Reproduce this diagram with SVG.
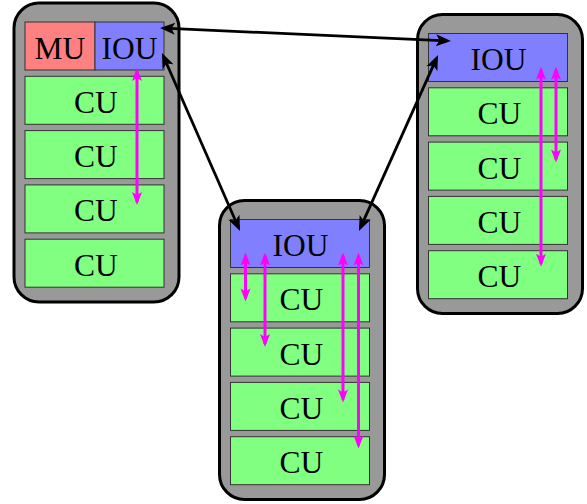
<svg xmlns="http://www.w3.org/2000/svg" width="587" height="504" viewBox="0 0 587 504">
  <style>
    .cont { fill: #999999; stroke: #000000; stroke-width: 3; }
    .box { stroke: #333333; stroke-width: 1; }
    .mu { fill: #ff8080; }
    .iou { fill: #8080ff; }
    .cu { fill: #80ff80; }
    .lbl { font-family: "Liberation Serif", "Times New Roman", serif; font-size: 31.5px; fill: #000000; text-anchor: middle; }
    .blk { stroke: #000000; stroke-width: 2.8; fill: none; marker-start: url(#ab); marker-end: url(#ab); }
    .mag { stroke: #ff00ff; stroke-width: 3; fill: none; marker-start: url(#am); marker-end: url(#am); }
  </style>
  <defs>
    <marker id="ab" markerUnits="userSpaceOnUse" orient="auto-start-reverse" viewBox="-14 -8 20 16" refX="0" refY="0" markerWidth="20" markerHeight="16" overflow="visible">
      <path d="M4,0 L-11,-6 L-7.5,0 L-11,6 Z" fill="#000000"/>
    </marker>
    <marker id="am" markerUnits="userSpaceOnUse" orient="auto-start-reverse" viewBox="-12 -7 16 14" refX="0" refY="0" markerWidth="16" markerHeight="14" overflow="visible">
      <path d="M3,0 L-10,-5 L-7,0 L-10,5 Z" fill="#ff00ff"/>
    </marker>
  </defs>

  <g id="node-left" transform="translate(13,2)">
    <rect class="cont" x="1" y="1" width="165" height="299" rx="25"/>
    <g id="left-mu"><rect class="box mu" x="12" y="20" width="70" height="48"/><text class="lbl" x="47" y="56.5">MU</text></g>
    <g id="left-iou"><rect class="box iou" x="82" y="20" width="69" height="48"/><text class="lbl" x="116.5" y="56.5">IOU</text></g>
    <g id="left-cu1"><rect class="box cu" x="12" y="74.3" width="139" height="48"/><text class="lbl" x="83" y="110.8">CU</text></g>
    <g id="left-cu2"><rect class="box cu" x="12" y="128.6" width="139" height="48"/><text class="lbl" x="83" y="165.1">CU</text></g>
    <g id="left-cu3"><rect class="box cu" x="12" y="182.9" width="139" height="48"/><text class="lbl" x="83" y="219.4">CU</text></g>
    <g id="left-cu4"><rect class="box cu" x="12" y="237.2" width="139" height="48"/><text class="lbl" x="83" y="273.7">CU</text></g>
  </g>

  <g id="node-middle" transform="translate(218.5,199.5)">
    <rect class="cont" x="1" y="1" width="165" height="299" rx="25"/>
    <g id="mid-iou"><rect class="box iou" x="12" y="20" width="139" height="48"/><text class="lbl" x="82" y="56.5">IOU</text></g>
    <g id="mid-cu1"><rect class="box cu" x="12" y="74.3" width="139" height="48"/><text class="lbl" x="83" y="110.8">CU</text></g>
    <g id="mid-cu2"><rect class="box cu" x="12" y="128.6" width="139" height="48"/><text class="lbl" x="83" y="165.1">CU</text></g>
    <g id="mid-cu3"><rect class="box cu" x="12" y="182.9" width="139" height="48"/><text class="lbl" x="83" y="219.4">CU</text></g>
    <g id="mid-cu4"><rect class="box cu" x="12" y="237.2" width="139" height="48"/><text class="lbl" x="83" y="273.7">CU</text></g>
  </g>

  <g id="node-right" transform="translate(416.5,13.5)">
    <rect class="cont" x="1" y="1" width="165" height="299" rx="25"/>
    <g id="right-iou"><rect class="box iou" x="12" y="20" width="139" height="48"/><text class="lbl" x="82" y="56.5">IOU</text></g>
    <g id="right-cu1"><rect class="box cu" x="12" y="74.3" width="139" height="48"/><text class="lbl" x="83" y="110.8">CU</text></g>
    <g id="right-cu2"><rect class="box cu" x="12" y="128.6" width="139" height="48"/><text class="lbl" x="83" y="165.1">CU</text></g>
    <g id="right-cu3"><rect class="box cu" x="12" y="182.9" width="139" height="48"/><text class="lbl" x="83" y="219.4">CU</text></g>
    <g id="right-cu4"><rect class="box cu" x="12" y="237.2" width="139" height="48"/><text class="lbl" x="83" y="273.7">CU</text></g>
  </g>

  <g id="connectors">
    <line class="blk" x1="164" y1="28.2" x2="447" y2="40.8"/>
    <line class="blk" x1="163.6" y1="56.7" x2="238.4" y2="227.3"/>
    <line class="blk" x1="360.6" y1="227.4" x2="436.4" y2="58.6"/>

    <line class="mag" x1="137" y1="71" x2="137" y2="202"/>
    <line class="mag" x1="245.5" y1="255.5" x2="245.5" y2="298.5"/>
    <line class="mag" x1="265" y1="255.5" x2="265" y2="344"/>
    <line class="mag" x1="343" y1="255.5" x2="343" y2="399.5"/>
    <line class="mag" x1="358.5" y1="255.5" x2="358.5" y2="445.5"/>
    <line class="mag" x1="541" y1="69.7" x2="541" y2="263.7"/>
    <line class="mag" x1="556" y1="69.7" x2="556" y2="159.5"/>
  </g>
</svg>
